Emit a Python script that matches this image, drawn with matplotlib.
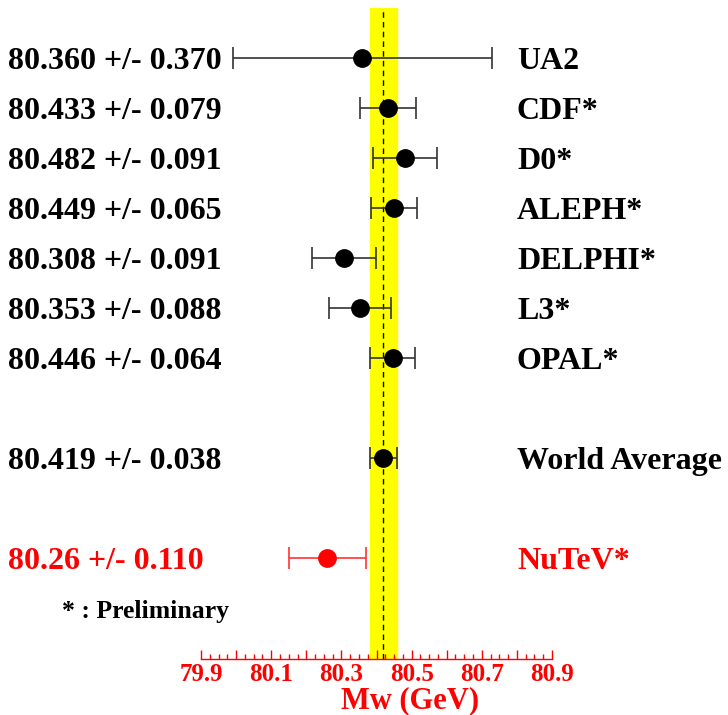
import matplotlib
matplotlib.use("Agg")
import matplotlib.pyplot as plt
import matplotlib.transforms as mtransforms
from matplotlib.ticker import FixedLocator, MultipleLocator
import numpy as np

# W mass measurements (GeV)
experiments = ["UA2", "CDF*", "D0*", "ALEPH*", "DELPHI*", "L3*", "OPAL*", "World Average", "NuTeV*"]
mw = [80.360, 80.433, 80.482, 80.449, 80.308, 80.353, 80.446, 80.419, 80.26]
err = [0.370, 0.079, 0.091, 0.065, 0.091, 0.088, 0.064, 0.038, 0.110]
labels = ["80.360 +/- 0.370", "80.433 +/- 0.079", "80.482 +/- 0.091", "80.449 +/- 0.065",
          "80.308 +/- 0.091", "80.353 +/- 0.088", "80.446 +/- 0.064", "80.419 +/- 0.038",
          "80.26 +/- 0.110"]
rows = [0, 1, 2, 3, 4, 5, 6, 8, 10]
colors = ["black"] * 8 + ["red"]

avg, avg_err = 80.419, 0.038
tick_labels = ["79.9", "80.1", "80.3", "80.5", "80.7", "80.9"]

W, H = 728, 715
fig = plt.figure(figsize=(W / 100, H / 100), dpi=100)
ax = fig.add_axes([201 / W, (H - 659) / H, 351 / W, 651 / H])
ax.set_xlim(79.9, 80.9)
ax.set_ylim(12.02, -1.0)

serif = ["Liberation Serif", "DejaVu Serif"]

# world average band and central value
ax.axvspan(avg - avg_err, avg + avg_err, color="#ffff00", zorder=0)
ax.axvline(avg, color="black", lw=1.0, ls=(0, (4, 3)), zorder=1)

tr = mtransforms.blended_transform_factory(fig.transFigure, ax.transData)
for name, m, e, r, lab, c in zip(experiments, mw, err, rows, labels, colors):
    lc = "#333333" if c == "black" else "#ff3333"
    ax.errorbar(m, r, xerr=e, fmt="o", color=c, ecolor=lc, elinewidth=1.2,
                capsize=8, capthick=1.2, markersize=12.5, zorder=3)
    ax.text(8 / W, r, lab, transform=tr, ha="left", va="center_baseline",
            fontsize=23, fontweight="bold", family=serif, color=c, clip_on=False)
    ax.text(517 / W, r, name, transform=tr, ha="left", va="center_baseline",
            fontsize=23, fontweight="bold", family=serif, color=c, clip_on=False)

fig.text(62 / W, 1 - 609 / H, "* : Preliminary", ha="left", va="center_baseline",
         fontsize=18.5, fontweight="bold", family=serif)

# red bottom axis with ticks pointing up
for s in ["top", "left", "right"]:
    ax.spines[s].set_visible(False)
ax.spines["bottom"].set_color("red")
ax.spines["bottom"].set_linewidth(1.0)
ax.set_yticks([])
major = np.round(np.arange(79.9, 80.91, 0.1), 2)
ax.xaxis.set_major_locator(FixedLocator(major))
ax.xaxis.set_minor_locator(MultipleLocator(0.025))
ax.set_xticklabels([f"{v:.1f}" if f"{v:.1f}" in tick_labels else "" for v in major])
ax.tick_params(axis="x", which="major", direction="in", length=6.5, width=1.0,
               color="red", labelcolor="red", labelsize=18, pad=3)
ax.tick_params(axis="x", which="minor", direction="in", length=3.5, width=1.0, color="red")
for t in ax.get_xticklabels():
    t.set_fontweight("bold")
    t.set_family(serif)
ax.set_xlabel("Mw (GeV)", color="red", fontsize=22, fontweight="bold", family=serif,
              labelpad=0)
ax.xaxis.set_label_coords(0.595, -0.042)

fig.savefig("out.png", dpi=100)
